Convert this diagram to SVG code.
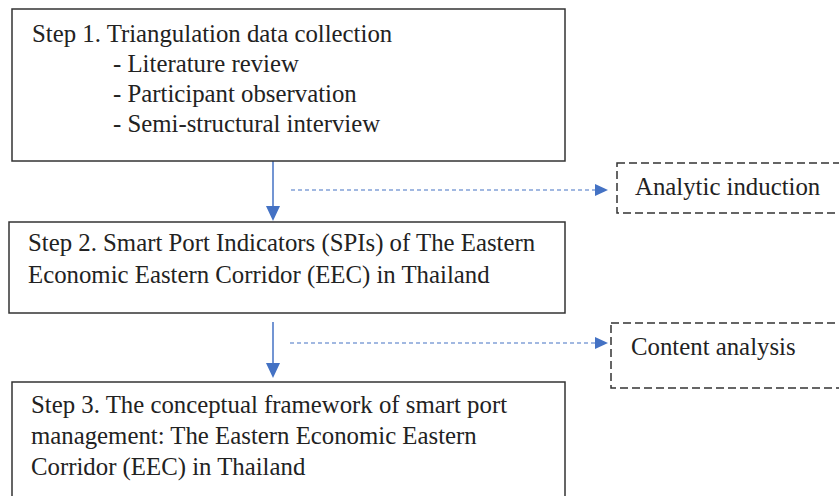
<svg xmlns="http://www.w3.org/2000/svg" width="839" height="496" viewBox="0 0 839 496">
<style>
.box{fill:#fff;stroke:#333;stroke-width:1.5}
.dbox{fill:#fff;stroke:#333;stroke-width:1.5;stroke-dasharray:8 4}
.t{font-family:"Liberation Serif","Times New Roman",serif;font-size:24.8px;fill:#222}
.v{stroke:#4472C4;stroke-width:1.5;fill:none}
.d{stroke:#4472C4;stroke-width:1.2;stroke-dasharray:4 3;fill:none}
.h{fill:#4472C4}
</style>
<rect width="839" height="496" fill="#fff"/>
<g id="connectors">
<line class="v" x1="273" y1="161" x2="273" y2="207"/>
<polygon class="h" points="266,206 280,206 273,221"/>
<line class="d" x1="291" y1="190" x2="596" y2="190"/>
<polygon class="h" points="595,184 608,190 595,196"/>
<line class="v" x1="273" y1="322" x2="273" y2="364"/>
<polygon class="h" points="266,363 280,363 273,378"/>
<line class="d" x1="290" y1="343" x2="596" y2="343"/>
<polygon class="h" points="595,337 608,343 595,349"/>
</g>
<g id="step1">
<rect class="box" x="12" y="9" width="553" height="152"/>
<text class="t" x="32" y="42">Step 1. Triangulation data collection</text>
<text class="t" x="113" y="72">- Literature review</text>
<text class="t" x="113" y="102">- Participant observation</text>
<text class="t" x="113" y="132">- Semi-structural interview</text>
</g>
<g id="step2">
<rect class="box" x="9" y="222" width="556" height="91"/>
<text class="t" x="28" y="251">Step 2. Smart Port Indicators (SPIs) of The Eastern</text>
<text class="t" x="28" y="283">Economic Eastern Corridor (EEC) in Thailand</text>
</g>
<g id="step3">
<rect class="box" x="12" y="382" width="553" height="120"/>
<text class="t" x="31" y="413">Step 3. The conceptual framework of smart port</text>
<text class="t" x="31" y="444">management: The Eastern Economic Eastern</text>
<text class="t" x="31" y="475">Corridor (EEC) in Thailand</text>
</g>
<g id="analytic">
<rect class="dbox" x="617" y="163" width="240" height="50"/>
<text class="t" x="635" y="195">Analytic induction</text>
</g>
<g id="content">
<rect class="dbox" x="611" y="323" width="246" height="65"/>
<text class="t" x="631" y="355">Content analysis</text>
</g>
</svg>
